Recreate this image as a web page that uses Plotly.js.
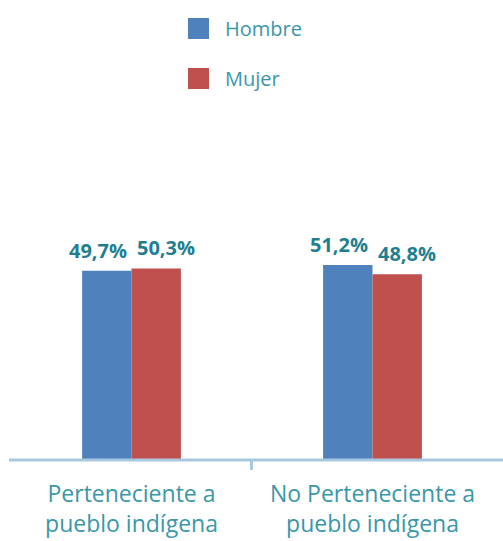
<!DOCTYPE html>
<html>
<head>
<meta charset="utf-8">
<script src="https://cdn.plot.ly/plotly-3.0.1.min.js"></script>
<style>
  body { margin: 0; background: #fff; }
  #chart { width: 503px; height: 541px; }
</style>
</head>
<body>
<div id="chart"></div>
<script>
// Data
const categories = ['Perteneciente a<br>pueblo indígena', 'No Perteneciente a<br>pueblo indígena'];
const seriesNames = ['Hombre', 'Mujer'];
const hombreValues = [49.7, 51.2];
const mujerValues = [50.3, 48.8];
const valueLabels = [['49,7%', '51,2%'], ['50,3%', '48,8%']];

const seriesColors = ['#4F81BD', '#C0504D'];
const labelColor = '#1F7F91';
const textColor = '#3A97A8';
const axisColor = '#A8C8E0';

// Plot geometry (pixels)
const W = 503, Hgt = 541;
const margin = { l: 11, r: 10, t: 262, b: 81 };
const plotW = W - margin.l - margin.r;
const plotH = Hgt - margin.t - margin.b;
const px = x => (x - margin.l) / plotW;
const py = y => (Hgt - margin.b - y) / plotH;

const traces = [hombreValues, mujerValues].map((vals, i) => ({
    type: 'bar',
    x: categories,
    y: vals,
    name: seriesNames[i],
    marker: { color: seriesColors[i], line: { width: 0 } },
    hoverinfo: 'none',
    showlegend: false
}));

// Value labels above bars
const annotations = [];
[hombreValues, mujerValues].forEach((vals, i) => {
    vals.forEach((v, j) => {
        annotations.push({
            x: categories[j], y: v, xref: 'x', yref: 'y',
            text: valueLabels[i][j],
            showarrow: false,
            yanchor: 'bottom',
            xshift: i === 0 ? -34 : 34,
            yshift: 5,
            font: { family: 'Open Sans, sans-serif', size: 20, color: labelColor, weight: 700 }
        });
    });
});

// Legend drawn at top
const shapes = [];
seriesNames.forEach((name, i) => {
    const top = 18 + i * 50;
    shapes.push({
        type: 'rect', xref: 'paper', yref: 'paper',
        x0: px(188), x1: px(209), y0: py(top + 21), y1: py(top),
        fillcolor: seriesColors[i], line: { width: 0 }
    });
    annotations.push({
        xref: 'paper', yref: 'paper',
        x: px(223), y: py(top + 10),
        xanchor: 'left', yanchor: 'middle',
        text: name, showarrow: false,
        font: { family: 'Open Sans, sans-serif', size: 20, color: textColor }
    });
});

// Axis line and center tick
shapes.push({
    type: 'line', xref: 'paper', yref: 'paper',
    x0: px(9), x1: px(503), y0: 0, y1: 0,
    line: { color: axisColor, width: 3 }
});
shapes.push({
    type: 'line', xref: 'paper', yref: 'paper',
    x0: px(251.5), x1: px(251.5), y0: 0, y1: py(470),
    line: { color: axisColor, width: 3 }
});

const layout = {
    width: W,
    height: Hgt,
    margin: margin,
    paper_bgcolor: '#fff',
    plot_bgcolor: '#fff',
    barmode: 'group',
    bargap: 0.59,
    bargroupgap: 0,
    showlegend: false,
    xaxis: {
        showline: false,
        showgrid: false,
        zeroline: false,
        ticks: '',
        ticklabelstandoff: 18,
        tickfont: { family: 'Open Sans, sans-serif', size: 23, color: textColor }
    },
    yaxis: {
        range: [0, 52],
        visible: false,
        fixedrange: true
    },
    shapes: shapes,
    annotations: annotations
};

Plotly.newPlot('chart', traces, layout, { displayModeBar: false, staticPlot: true });
</script>
</body>
</html>
